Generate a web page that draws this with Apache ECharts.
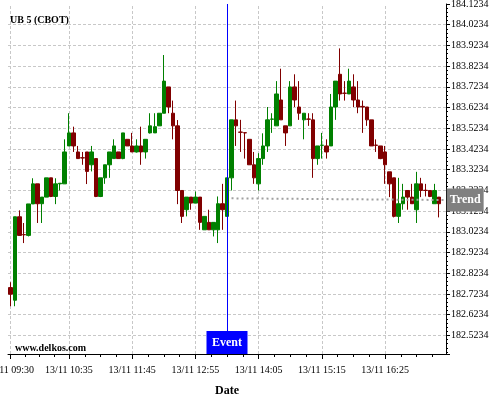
<!DOCTYPE html>
<html>
<head>
<meta charset="utf-8">
<script src="https://cdn.jsdelivr.net/npm/echarts@6.0.0/dist/echarts.min.js"></script>
<style>html,body{margin:0;padding:0;background:#fff}#c{width:500px;height:400px}</style>
</head>
<body>
<div id="c"></div>
<script>
// ---- data ----
const day = '13/11';
const startMinutes = 9 * 60 + 30;   // first bar 09:30, 5-minute bars
const slotCount = 97;               // 09:30 .. 17:30
const categories = [];
for (let i = 0; i < slotCount; i++) {
  const m = startMinutes + 5 * i;
  categories.push(day + ' ' + String(Math.floor(m / 60)).padStart(2, '0') + ':' + String(m % 60).padStart(2, '0'));
}
const labelIndices = [0, 13, 27, 41, 55, 69, 83];

const opens = [
182.754, 182.693, 183.096, 183.010, 183.006, 183.158, 183.255, 183.159, 183.191, 183.284,
183.194, 183.255, 183.255, 183.438, 183.501, 183.409, 183.381, 183.409, 183.347, 183.377,
183.194, 183.284, 183.347, 183.377, 183.409, 183.377, 183.470, 183.438, 183.409, 183.438,
183.409, 183.501, 183.501, 183.535, 183.596, 183.723, 183.596, 183.535, 183.223, 183.130,
183.191, 183.162, 183.191, 183.033, 183.069, 183.033, 183.033, 183.159, 183.098, 183.284,
183.564, 183.505, 183.502, 183.470, 183.347, 183.255, 183.377, 183.438, 183.567, 183.535,
183.660, 183.535, 183.535, 183.723, 183.626, 183.564, 183.568, 183.564, 183.377, 183.441,
183.438, 183.438, 183.626, 183.784, 183.693, 183.689, 183.723, 183.660, 183.629, 183.626,
183.564, 183.442, 183.438, 183.409, 183.313, 183.284, 183.098, 183.159, 183.223, 183.191,
183.130, 183.255, 183.224, 183.223, 183.159, 183.191
];
const closes = [
182.722, 183.096, 183.006, 183.009, 183.158, 183.255, 183.159, 183.191, 183.284, 183.194,
183.255, 183.258, 183.409, 183.501, 183.438, 183.377, 183.380, 183.315, 183.409, 183.194,
183.284, 183.347, 183.409, 183.438, 183.377, 183.501, 183.438, 183.409, 183.438, 183.409,
183.470, 183.535, 183.531, 183.596, 183.751, 183.626, 183.535, 183.223, 183.098, 183.191,
183.162, 183.191, 183.069, 183.098, 183.033, 183.069, 183.159, 183.130, 183.284, 183.564,
183.535, 183.504, 183.501, 183.347, 183.284, 183.377, 183.438, 183.564, 183.568, 183.689,
183.564, 183.501, 183.723, 183.660, 183.596, 183.596, 183.567, 183.377, 183.438, 183.442,
183.409, 183.626, 183.751, 183.689, 183.692, 183.751, 183.660, 183.626, 183.626, 183.564,
183.438, 183.441, 183.377, 183.347, 183.255, 183.098, 183.159, 183.191, 183.191, 183.159,
183.255, 183.223, 183.223, 183.194, 183.223, 183.159
];
const lows = [
182.664, 182.664, 183.006, 182.969, 183.001, 183.158, 183.066, 183.066, 183.191, 183.191,
183.157, 183.223, 183.255, 183.438, 183.409, 183.377, 183.347, 183.254, 183.315, 183.191,
183.191, 183.255, 183.284, 183.377, 183.377, 183.374, 183.438, 183.409, 183.406, 183.347,
183.377, 183.498, 183.501, 183.535, 183.596, 183.596, 183.470, 183.157, 183.066, 183.098,
183.130, 183.162, 183.033, 183.033, 183.033, 183.001, 182.969, 183.033, 183.098, 183.223,
183.438, 183.409, 183.377, 183.347, 183.255, 183.223, 183.347, 183.409, 183.501, 183.535,
183.564, 183.438, 183.535, 183.626, 183.564, 183.470, 183.535, 183.284, 183.347, 183.377,
183.377, 183.438, 183.564, 183.657, 183.657, 183.689, 183.626, 183.596, 183.501, 183.535,
183.438, 183.409, 183.374, 183.255, 183.191, 183.093, 183.066, 183.130, 183.130, 183.159,
183.066, 183.191, 183.194, 183.191, 183.159, 183.093
];
const highs = [
182.780, 183.096, 183.127, 183.066, 183.158, 183.282, 183.255, 183.191, 183.284, 183.284,
183.282, 183.258, 183.470, 183.596, 183.531, 183.438, 183.409, 183.409, 183.438, 183.377,
183.284, 183.347, 183.409, 183.470, 183.409, 183.501, 183.470, 183.501, 183.470, 183.531,
183.470, 183.596, 183.596, 183.596, 183.877, 183.723, 183.657, 183.563, 183.223, 183.191,
183.191, 183.218, 183.191, 183.098, 183.130, 183.069, 183.194, 183.255, 183.284, 183.564,
183.657, 183.564, 183.502, 183.470, 183.409, 183.403, 183.499, 183.626, 183.596, 183.751,
183.811, 183.535, 183.751, 183.784, 183.751, 183.596, 183.596, 183.596, 183.438, 183.501,
183.470, 183.689, 183.751, 183.909, 183.751, 183.811, 183.784, 183.751, 183.657, 183.626,
183.564, 183.470, 183.438, 183.438, 183.313, 183.284, 183.284, 183.255, 183.223, 183.255,
183.313, 183.284, 183.255, 183.223, 183.255, 183.191
];

const eventIndex = 48;
const trendPoints = [[49, 183.185], [96, 183.177]];

// price axis: labels at x.x234, 0.1 apart
const priceOffset = 0.0234;
const priceMin = 182.4334, priceMax = 184.1234;
const priceTickStep = 0.1;

// minor x ticks: quarter points between labelled bars
const minorXTicks = [];
for (let k = 0; k < labelIndices.length; k++) {
  const a = labelIndices[k];
  const b = k + 1 < labelIndices.length ? labelIndices[k + 1] : a + 14;
  for (let q = 1; q < 4; q++) { const t = a + (b - a) * q / 4; if (t < slotCount - 0.5) minorXTicks.push(t); }
}

// ---- chart ----
const FONT = 'Liberation Serif';
const candleData = opens.map((o, i) => [o, closes[i], lows[i], highs[i]]);
const isLabel = (idx) => labelIndices.indexOf(idx) >= 0;

const chart = echarts.init(document.getElementById('c'), null, {renderer: 'canvas'});
chart.setOption({
  animation: false,
  backgroundColor: '#fff',
  title: [
    {text: 'UB 5 (CBOT)', left: 10, top: 15, padding: 0,
     textStyle: {fontSize: 10, fontWeight: 'bold', fontFamily: FONT, color: '#000'}},
    {text: 'www.delkos.com', left: 15, top: 343, padding: 0,
     textStyle: {fontSize: 10, fontWeight: 'bold', fontFamily: FONT, color: '#000'}}
  ],
  grid: {left: 8, right: 54, top: 4, bottom: 46, containLabel: false, outerBoundsMode: 'none'},
  xAxis: [
    {
      type: 'category', data: categories, boundaryGap: true,
      axisLine: {show: true, lineStyle: {color: '#000', width: 1}},
      axisTick: {show: true, alignWithLabel: true, interval: (i) => isLabel(i), length: 5, lineStyle: {color: '#000'}},
      axisLabel: {interval: (i) => isLabel(i), fontSize: 10, fontFamily: FONT, color: '#000', margin: 11},
      splitLine: {show: false},
      name: 'Date', nameLocation: 'middle', nameGap: 31,
      nameTextStyle: {fontWeight: 'bold', fontSize: 12, fontFamily: FONT, color: '#000'}
    },
    {
      type: 'value', min: -0.5, max: slotCount - 0.5, position: 'bottom',
      axisLine: {show: false}, axisLabel: {show: false}, splitLine: {show: false},
      axisTick: {show: true, length: 3, customValues: minorXTicks, lineStyle: {color: '#000'}}
    }
  ],
  yAxis: [
    {type: 'value', min: priceMin, max: priceMax, position: 'right', show: false},
    {
      type: 'value', min: priceMin - priceOffset, max: priceMax - priceOffset, position: 'right',
      splitNumber: 17, minInterval: priceTickStep, maxInterval: priceTickStep,
      axisLine: {show: true, lineStyle: {color: '#000'}},
      axisTick: {show: true, length: 4, lineStyle: {color: '#000'}},
      minorTick: {show: true, splitNumber: 5, length: 2, lineStyle: {color: '#000'}},
      axisLabel: {formatter: (v) => (v + priceOffset).toFixed(4), fontSize: 10, fontFamily: FONT, color: '#000',
                  margin: 5, showMinLabel: false, padding: [4, 0, 0, 0]},
      splitLine: {show: true, showMinLine: false, showMaxLine: false, lineStyle: {color: '#c8c8c8', type: [3, 2], width: 1}}
    }
  ],
  series: [
    {
      type: 'candlestick', name: 'UB 5', xAxisIndex: 0, yAxisIndex: 0,
      data: candleData, barWidth: 4,
      itemStyle: {color: '#008000', color0: '#800000', borderColor: '#008000', borderColor0: '#800000', borderWidth: 1},
      markLine: {
        silent: true, z: 1, symbol: ['none', 'none'], label: {show: false},
        lineStyle: {color: '#c8c8c8', type: [3, 2], width: 1},
        data: labelIndices.map((i) => ({xAxis: i}))
      },
      markPoint: {
        silent: true,
        data: [{coord: [eventIndex, priceMin], symbol: 'rect', symbolSize: [41, 23], symbolOffset: [0, -11.5],
                itemStyle: {color: '#0000ff'},
                label: {show: true, position: 'inside', formatter: 'Event', color: '#fff', fontWeight: 'bold', fontSize: 12, fontFamily: FONT}}]
      }
    },
    {
      type: 'line', name: 'Trend', xAxisIndex: 0, yAxisIndex: 0,
      data: trendPoints, symbol: 'none', z: 3,
      lineStyle: {color: '#a0a0a0', width: 2, type: [2, 3]},
      endLabel: {show: true, formatter: 'Trend', color: '#fff', fontWeight: 'bold', fontSize: 12, fontFamily: FONT,
                 backgroundColor: '#808080', padding: [7, 3, 4, 3], distance: 3},
      markLine: {
        silent: true, symbol: ['none', 'none'], label: {show: false},
        lineStyle: {color: '#0000ff', type: 'solid', width: 1},
        data: [{xAxis: eventIndex}]
      }
    }
  ]
});
</script>
</body>
</html>
